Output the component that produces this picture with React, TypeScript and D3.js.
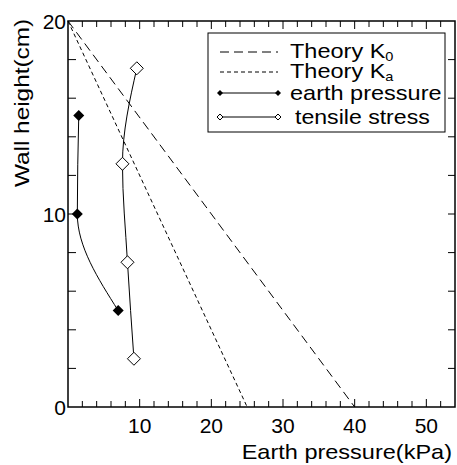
import React from "react";
import * as d3 from "d3";

const earthX = [1.5, 1.3, 7.0];
const earthY = [15.1, 10.0, 5.0];
const tensileX = [9.6, 7.6, 8.3, 9.2];
const tensileY = [17.55, 12.6, 7.5, 2.5];
const k0X = [0, 40];
const k0Y = [20, 0];
const kaX = [0, 25];
const kaY = [20, 0];
const xTickLabels = [10, 20, 30, 40, 50];
const yTickLabels = [0, 10, 20];

const W = 457, H = 465;
const L = 68, R = 455, T = 21, B = 407;
const FONT = "'Liberation Sans', Arial, Helvetica, sans-serif";
const SX = 1.12;

export default function App() {
  const x = d3.scaleLinear().domain([0, 54]).range([L, R]);
  const y = d3.scaleLinear().domain([0, 20]).range([B, T]);
  const curve = d3.line<[number, number]>().x(d => x(d[0])).y(d => y(d[1])).curve(d3.curveMonotoneY);
  const straight = d3.line<[number, number]>().x(d => x(d[0])).y(d => y(d[1]));
  const earth = earthX.map((v, i) => [v, earthY[i]] as [number, number]);
  const tensile = tensileX.map((v, i) => [v, tensileY[i]] as [number, number]);
  const k0 = k0X.map((v, i) => [v, k0Y[i]] as [number, number]);
  const ka = kaX.map((v, i) => [v, kaY[i]] as [number, number]);
  const xt = d3.range(2, 54, 2);
  const yt = d3.range(2, 20, 2);
  const diamond = (cx: number, cy: number, r: number) => `M${cx},${cy - r}L${cx + r},${cy}L${cx},${cy + r}L${cx - r},${cy}Z`;

  const legendRows = [52, 72, 93, 117];
  const lx0 = 220, lx1 = 278;

  return (
    <svg width={W} height={H} style={{ position: "absolute", left: 0, top: 0, background: "#fff" }} fontFamily={FONT}>
      <rect x={0} y={0} width={W} height={H} fill="#fff" />
      {/* lines */}
      <path d={straight(k0)!} fill="none" stroke="#000" strokeWidth={1} strokeDasharray="9,5" />
      <path d={straight(ka)!} fill="none" stroke="#000" strokeWidth={1} strokeDasharray="4,3" />
      <path d={curve(earth)!} fill="none" stroke="#000" strokeWidth={1} />
      <path d={curve(tensile)!} fill="none" stroke="#000" strokeWidth={1} />
      {earth.map((d, i) => <path key={"e" + i} d={diamond(x(d[0]), y(d[1]), 5.5)} fill="#000" />)}
      {tensile.map((d, i) => <path key={"t" + i} d={diamond(x(d[0]), y(d[1]), 6.5)} fill="#fff" stroke="#000" strokeWidth={1} />)}
      {/* frame */}
      <rect x={L} y={T} width={R - L} height={B - T} fill="none" stroke="#000" strokeWidth={1.5} />
      {xt.map(v => (
        <g key={"xt" + v}>
          <line x1={x(v)} x2={x(v)} y1={B} y2={B - (v % 10 === 0 ? 8 : 6)} stroke="#000" strokeWidth={1} />
          <line x1={x(v)} x2={x(v)} y1={T} y2={T + (v % 10 === 0 ? 8 : 6)} stroke="#000" strokeWidth={1} />
        </g>
      ))}
      {yt.map(v => (
        <g key={"yt" + v}>
          <line x1={L} x2={L + 8} y1={y(v)} y2={y(v)} stroke="#000" strokeWidth={1} />
          <line x1={R} x2={R - 7} y1={y(v)} y2={y(v)} stroke="#000" strokeWidth={1} />
        </g>
      ))}
      {xTickLabels.map(v => (
        <text key={"xl" + v} x={x(v)} y={433} fontSize={21} textAnchor="middle">{v}</text>
      ))}
      {yTickLabels.map(v => (
        <text key={"yl" + v} x={66} y={y(v) + 7.5} fontSize={21} textAnchor="end">{v}</text>
      ))}
      <g transform={`translate(452,459) scale(${SX},1)`}>
        <text x={0} y={0} fontSize={21} textAnchor="end">Earth pressure(kPa)</text>
      </g>
      <g transform={`translate(29,103) rotate(-90) scale(1.16,1)`}>
        <text x={0} y={0} fontSize={21} textAnchor="middle">Wall height(cm)</text>
      </g>
      {/* legend */}
      <rect x={208} y={33} width={237} height={99} fill="#fff" stroke="#000" strokeWidth={1} />
      <line x1={lx0} x2={lx1} y1={legendRows[0]} y2={legendRows[0]} stroke="#000" strokeDasharray="9,5" />
      <line x1={lx0} x2={lx1} y1={legendRows[1]} y2={legendRows[1]} stroke="#000" strokeDasharray="4,3" />
      <line x1={lx0} x2={lx1} y1={legendRows[2]} y2={legendRows[2]} stroke="#000" />
      <path d={diamond(lx0, legendRows[2], 3)} fill="#000" />
      <path d={diamond(lx1, legendRows[2], 3)} fill="#000" />
      <line x1={lx0} x2={lx1} y1={legendRows[3]} y2={legendRows[3]} stroke="#000" />
      <path d={diamond(lx0, legendRows[3], 3)} fill="#fff" stroke="#000" />
      <path d={diamond(lx1, legendRows[3], 3)} fill="#fff" stroke="#000" />
      <g transform={`translate(290,58) scale(${SX},1)`}>
        <text fontSize={21}>Theory K<tspan fontSize={13} dy={3}>0</tspan></text>
      </g>
      <g transform={`translate(290,78) scale(${SX},1)`}>
        <text fontSize={21}>Theory K<tspan fontSize={13} dy={3}>a</tspan></text>
      </g>
      <g transform={`translate(290,100) scale(${SX},1)`}>
        <text fontSize={21}>earth pressure</text>
      </g>
      <g transform={`translate(295,124) scale(1.1,1)`}>
        <text fontSize={21}>tensile stress</text>
      </g>
    </svg>
  );
}
